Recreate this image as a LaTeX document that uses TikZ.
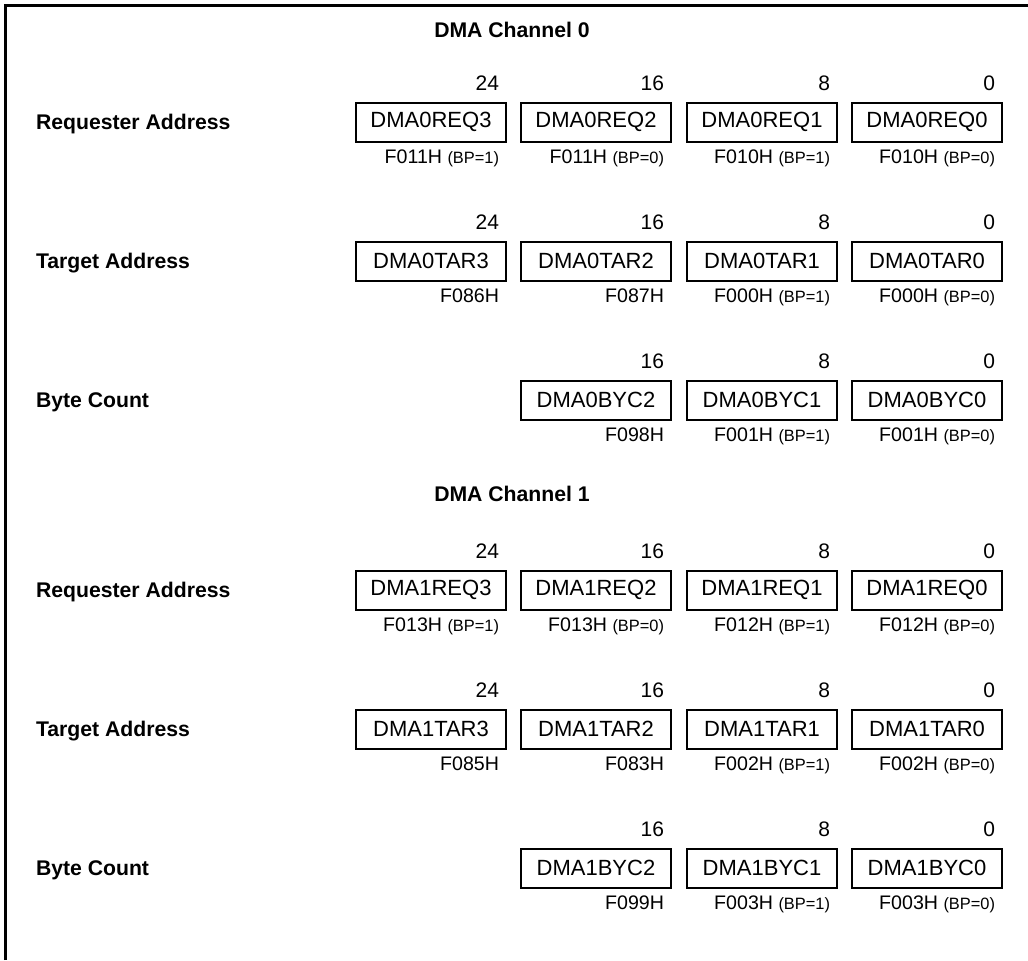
\documentclass[tikz,border=0pt]{standalone}
\usepackage{fontspec}
\setmainfont{Liberation Sans}
\newcommand{\bp}[1]{{\fontsize{8.2}{10}\selectfont(BP=#1)}}

\begin{document}
\begin{tikzpicture}[x=0.5pt, y=-0.5pt, line width=1pt,
  reg/.style={draw, minimum width=75pt, minimum height=19.5pt, inner sep=0pt,
    font=\fontsize{11}{12}\selectfont},
  bit/.style={anchor=base east, inner sep=0pt, font=\fontsize{10.5}{12}\selectfont},
  adr/.style={anchor=base east, inner sep=0pt, font=\fontsize{9.8}{12}\selectfont},
  rowlabel/.style={anchor=base west, inner sep=0pt, font=\bfseries\fontsize{10.6}{12}\selectfont},
  chtitle/.style={anchor=base, inner sep=0pt, font=\bfseries\fontsize{10.6}{12}\selectfont}]
  \useasboundingbox (0,0) rectangle (1028,960);
  \draw[line width=1.5pt] (5.5,960) -- (5.5,5.5) -- (1028,5.5);

  % DMA channel 0
  \node[chtitle] (ch0) at (512,37.5) {DMA Channel 0};
  \node[rowlabel] (ch0req) at (35,129.5) {Requester Address};
  \foreach \x/\n/\b/\a in {431/DMA0REQ3/24/F011H \bp{1}, 596/DMA0REQ2/16/F011H \bp{0},
      762/DMA0REQ1/8/F010H \bp{1}, 927/DMA0REQ0/0/F010H \bp{0}} {
    \node[reg] (\n) at (\x,122) {\n};
    \node[bit] (\n-bit) at ([shift={(-3.5pt,5.5pt)}]\n.north east) {\b};
    \node[adr] (\n-adr) at ([shift={(-3.5pt,-10.25pt)}]\n.south east) {\a};
  }
  \node[rowlabel] (ch0tar) at (35,268.5) {Target Address};
  \foreach \x/\n/\b/\a in {431/DMA0TAR3/24/F086H, 596/DMA0TAR2/16/F087H,
      762/DMA0TAR1/8/F000H \bp{1}, 927/DMA0TAR0/0/F000H \bp{0}} {
    \node[reg] (\n) at (\x,261) {\n};
    \node[bit] (\n-bit) at ([shift={(-3.5pt,5.5pt)}]\n.north east) {\b};
    \node[adr] (\n-adr) at ([shift={(-3.5pt,-10.25pt)}]\n.south east) {\a};
  }
  \node[rowlabel] (ch0byc) at (35,407.5) {Byte Count};
  \foreach \x/\n/\b/\a in {596/DMA0BYC2/16/F098H,
      762/DMA0BYC1/8/F001H \bp{1}, 927/DMA0BYC0/0/F001H \bp{0}} {
    \node[reg] (\n) at (\x,400) {\n};
    \node[bit] (\n-bit) at ([shift={(-3.5pt,5.5pt)}]\n.north east) {\b};
    \node[adr] (\n-adr) at ([shift={(-3.5pt,-10.25pt)}]\n.south east) {\a};
  }

  % DMA channel 1
  \node[chtitle] (ch1) at (512,501.5) {DMA Channel 1};
  \node[rowlabel] (ch1req) at (35,597.5) {Requester Address};
  \foreach \x/\n/\b/\a in {431/DMA1REQ3/24/F013H \bp{1}, 596/DMA1REQ2/16/F013H \bp{0},
      762/DMA1REQ1/8/F012H \bp{1}, 927/DMA1REQ0/0/F012H \bp{0}} {
    \node[reg] (\n) at (\x,590) {\n};
    \node[bit] (\n-bit) at ([shift={(-3.5pt,5.5pt)}]\n.north east) {\b};
    \node[adr] (\n-adr) at ([shift={(-3.5pt,-10.25pt)}]\n.south east) {\a};
  }
  \node[rowlabel] (ch1tar) at (35,736.5) {Target Address};
  \foreach \x/\n/\b/\a in {431/DMA1TAR3/24/F085H, 596/DMA1TAR2/16/F083H,
      762/DMA1TAR1/8/F002H \bp{1}, 927/DMA1TAR0/0/F002H \bp{0}} {
    \node[reg] (\n) at (\x,729) {\n};
    \node[bit] (\n-bit) at ([shift={(-3.5pt,5.5pt)}]\n.north east) {\b};
    \node[adr] (\n-adr) at ([shift={(-3.5pt,-10.25pt)}]\n.south east) {\a};
  }
  \node[rowlabel] (ch1byc) at (35,875.5) {Byte Count};
  \foreach \x/\n/\b/\a in {596/DMA1BYC2/16/F099H,
      762/DMA1BYC1/8/F003H \bp{1}, 927/DMA1BYC0/0/F003H \bp{0}} {
    \node[reg] (\n) at (\x,868) {\n};
    \node[bit] (\n-bit) at ([shift={(-3.5pt,5.5pt)}]\n.north east) {\b};
    \node[adr] (\n-adr) at ([shift={(-3.5pt,-10.25pt)}]\n.south east) {\a};
  }
\end{tikzpicture}
\end{document}
